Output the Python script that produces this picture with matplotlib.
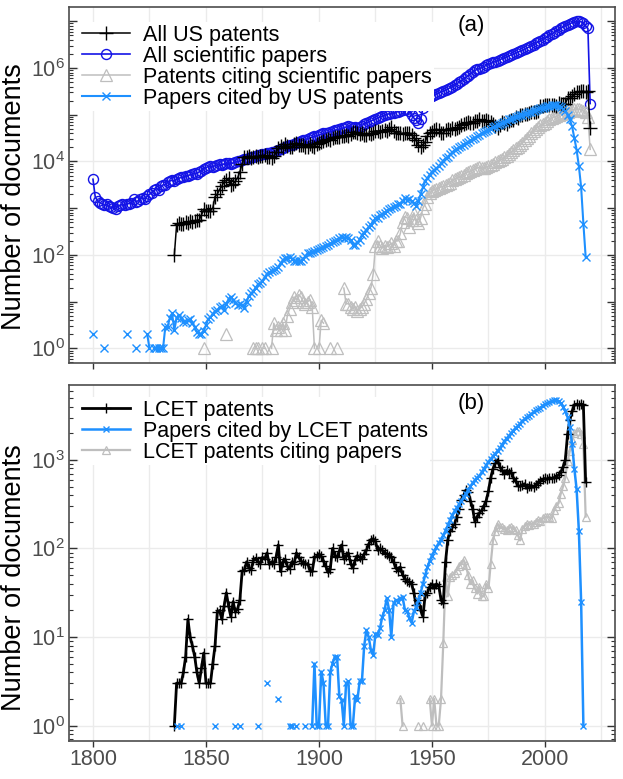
import numpy as np
import matplotlib
matplotlib.use('Agg')
import matplotlib.pyplot as plt
from matplotlib.ticker import LogLocator, NullFormatter

plt.rcParams['font.family'] = ['Liberation Sans', 'DejaVu Sans']
plt.rcParams['mathtext.fontset'] = 'custom'
plt.rcParams['mathtext.rm'] = 'Liberation Sans'
plt.rcParams['mathtext.it'] = 'Liberation Sans:italic'
plt.rcParams['mathtext.bf'] = 'Liberation Sans:bold'

NA = None

# all values are log10(number of documents) per year
# panel (a)
papers_start = 1800
papers_log = [
    3.62, 3.24, 3.16, 3.12, 3.10, 3.06, 3.08, 3.04, 3.02, 3.00,
    2.99, 3.04, 3.06, 3.08, 3.06, 3.10, 3.10, 3.12, 3.20, 3.14,
    3.16, 3.20, 3.22, 3.20, 3.26, 3.30, 3.33, 3.38, 3.42, 3.40,
    3.47, 3.50, 3.50, 3.56, 3.58, 3.60, 3.58, 3.62, 3.64, 3.66,
    3.67, 3.70, 3.69, 3.72, 3.73, 3.75, 3.74, 3.78, 3.80, 3.84,
    3.87, 3.89, 3.90, 3.89, 3.91, 3.93, 3.94, 3.92, 3.95, 3.96,
    3.97, 3.95, 3.97, 3.99, 4.00, 4.01, 4.03, 4.05, 4.06, 4.07,
    4.09, 4.10, 4.12, 4.13, 4.14, 4.16, 4.17, 4.18, 4.19, 4.20,
    4.21, 4.23, 4.25, 4.27, 4.29, 4.31, 4.33, 4.35, 4.36, 4.38,
    4.40, 4.42, 4.44, 4.45, 4.47, 4.49, 4.51, 4.52, 4.54, 4.55,
    4.57, 4.58, 4.60, 4.61, 4.62, 4.64, 4.65, 4.67, 4.68, 4.69,
    4.71, 4.72, 4.74, 4.75, 4.74, 4.72, 4.74, 4.72, 4.73, 4.77,
    4.80, 4.82, 4.85, 4.87, 4.89, 4.91, 4.93, 4.95, 4.97, 4.99,
    5.01, 5.02, 5.03, 5.04, 5.05, 5.07, 5.09, 5.10, 5.12, 5.12,
    5.08, 5.00, 4.93, 4.88, 4.83, 4.90, 5.15, 5.25, 5.32, 5.37,
    5.41, 5.43, 5.45, 5.47, 5.49, 5.51, 5.53, 5.55, 5.58, 5.60,
    5.63, 5.66, 5.70, 5.73, 5.76, 5.80, 5.84, 5.88, 5.92, 5.95,
    5.97, 5.99, 6.01, 6.03, 6.06, 6.08, 6.10, 6.12, 6.14, 6.16,
    6.18, 6.20, 6.22, 6.24, 6.26, 6.28, 6.30, 6.32, 6.34, 6.36,
    6.38, 6.40, 6.43, 6.45, 6.48, 6.50, 6.53, 6.56, 6.58, 6.61,
    6.64, 6.67, 6.70, 6.73, 6.76, 6.79, 6.82, 6.85, 6.88, 6.91,
    6.93, 6.95, 6.97, 6.99, 7.00, 7.00, 6.99, 6.96, 6.90, 6.85,
    5.24,
]

patents_start = 1836
patents_log = [
    2.00, 2.64, 2.68, 2.66,
    2.67, 2.70, 2.68, 2.72, 2.70, 2.72, 2.74, 2.75, 2.85, 2.98,
    2.95, 2.93, 2.95, 3.00, 3.25, 3.30, 3.40, 3.47, 3.57, 3.60,
    3.64, 3.50, 3.52, 3.58, 3.65, 3.78, 3.95, 4.09, 4.10, 4.11,
    4.08, 4.10, 4.11, 4.10, 4.11, 4.12, 4.14, 4.10, 4.10, 4.08,
    4.11, 4.20, 4.28, 4.33, 4.29, 4.37, 4.33, 4.32, 4.30, 4.37,
    4.40, 4.36, 4.36, 4.35, 4.30, 4.32, 4.38, 4.34, 4.32, 4.38,
    4.39, 4.42, 4.43, 4.45, 4.48, 4.47, 4.50, 4.52, 4.53, 4.52,
    4.55, 4.54, 4.56, 4.55, 4.58, 4.63, 4.64, 4.60, 4.58, 4.60,
    4.57, 4.56, 4.60, 4.58, 4.62, 4.66, 4.65, 4.64, 4.66, 4.68,
    4.66, 4.70, 4.73, 4.65, 4.62, 4.61, 4.60, 4.59, 4.60, 4.62,
    4.60, 4.57, 4.50, 4.45, 4.35, 4.32, 4.36, 4.42, 4.55, 4.60,
    4.64, 4.68, 4.69, 4.68, 4.62, 4.60, 4.68, 4.70, 4.68, 4.72,
    4.70, 4.72, 4.74, 4.78, 4.80, 4.82, 4.84, 4.82, 4.83, 4.86,
    4.86, 4.90, 4.86, 4.87, 4.88, 4.86, 4.85, 4.81, 4.77, 4.72,
    4.79, 4.84, 4.82, 4.80, 4.87, 4.88, 4.89, 4.95, 4.93, 5.00,
    5.00, 5.01, 5.02, 5.03, 5.05, 5.05, 5.07, 5.08, 5.18, 5.19,
    5.20, 5.21, 5.20, 5.21, 5.20, 5.18, 5.25, 5.22, 5.22, 5.24,
    5.35, 5.35, 5.40, 5.44, 5.48, 5.49, 5.50, 5.50, 5.48, 5.50,
    4.72,
]

citing_start = 1849
citing_log = [
    0.0,
    NA, NA, NA, NA, NA, NA, NA, NA, NA, 0.30,
    NA, NA, NA, NA, NA, NA, NA, NA, NA, NA,
    NA, 0.0, 0.0, 0.0, NA, 0.0, 0.0, NA, NA, 0.0,
    0.54, 0.39, 0.45, 0.39, 0.54, 0.39, 0.70, 0.85, 1.00, 1.10,
    1.04, 1.15, 1.10, 1.00, 0.96, 1.00, 1.04, 0.89, 0.0, NA,
    0.0, 0.60, 0.54, NA, NA, 0.0, NA, NA, 0.0, NA,
    NA, 1.29, 0.95, 0.96, 0.89, 0.85, 0.89, 0.79, 0.85, 0.89,
    0.96, 1.05, 1.18, 1.30, 1.60, 2.20, 2.30, 2.20, 2.15, 2.20,
    2.18, 2.20, 2.25, 2.20, 2.30, 2.30, 2.46, 2.70, 2.82, 2.80,
    2.60, 2.75, 2.90, 2.75, 2.68, 2.80, 3.00, 3.10, 3.25, 3.32,
    3.37, 3.40, 3.42, 3.44, 3.46, 3.47, 3.50, 3.52, 3.55, 3.60,
    3.62, 3.64, 3.66, 3.70, 3.72, 3.76, 3.78, 3.80, 3.82, 3.84,
    3.86, 3.88, 3.87, 3.86, 3.88, 3.90, 3.92, 3.95, 3.98, 4.00,
    4.03, 4.05, 4.10, 4.12, 4.15, 4.20, 4.24, 4.28, 4.32, 4.36,
    4.40, 4.45, 4.50, 4.55, 4.60, 4.65, 4.70, 4.74, 4.78, 4.80,
    4.82, 4.86, 4.90, 4.93, 4.95, 4.97, 5.00, 5.02, 5.03, 5.05,
    5.06, 5.08, 5.10, 5.12, 5.13, 5.12, 5.10, 5.08, 5.05, 4.95,
    4.26,
]

cited_start = 1800
cited_log = [
    0.30, NA, NA, NA, NA, 0.0, NA, NA, NA, NA,
    NA, NA, NA, NA, NA, 0.30, NA, NA, NA, 0.0,
    NA, NA, NA, NA, 0.30, 0.0, NA, 0.0, 0.0, 0.0,
    0.0, 0.0, 0.46, 0.46, 0.65, 0.75, 0.39, 0.65, 0.72, 0.66,
    0.57, 0.56, 0.61, 0.63, 0.55, 0.45, 0.34, 0.30, 0.30, 0.37,
    0.50, 0.63, 0.67, 0.74, 0.80, 0.82, 0.88, 0.90, 0.83, 0.95,
    1.06, 1.11, 1.04, 0.98, 0.93, 0.95, 0.92, 0.87, 1.00, 1.12,
    1.18, 1.23, 1.30, 1.37, 1.39, 1.45, 1.52, 1.60, 1.63, 1.65,
    1.68, 1.70, 1.75, 1.82, 1.89, 1.93, 1.93, 1.95, 1.92, 1.86,
    1.88, 1.88, 1.86, 1.91, 1.98, 2.04, 2.04, 2.06, 2.08, 2.10,
    2.13, 2.15, 2.17, 2.20, 2.22, 2.25, 2.27, 2.30, 2.32, 2.37,
    2.38, 2.36, 2.38, 2.37, 2.32, 2.22, 2.22, 2.27, 2.33, 2.43,
    2.48, 2.54, 2.60, 2.65, 2.72, 2.78, 2.80, 2.85, 2.88, 2.90,
    2.95, 2.98, 3.00, 3.02, 3.05, 3.08, 3.10, 3.15, 3.22, 3.18,
    3.20, 3.15, 3.12, 3.05, 3.15, 3.30, 3.45, 3.58, 3.65, 3.72,
    3.78, 3.82, 3.86, 3.90, 3.96, 4.02, 4.07, 4.10, 4.15, 4.20,
    4.24, 4.27, 4.30, 4.33, 4.36, 4.39, 4.42, 4.45, 4.48, 4.51,
    4.54, 4.57, 4.60, 4.63, 4.65, 4.68, 4.70, 4.73, 4.76, 4.78,
    4.80, 4.82, 4.85, 4.87, 4.90, 4.92, 4.94, 4.96, 4.97, 4.99,
    5.00, 5.01, 5.03, 5.05, 5.07, 5.09, 5.10, 5.12, 5.14, 5.15,
    5.17, 5.18, 5.19, 5.20, 5.20, 5.20, 5.19, 5.17, 5.13, 5.08,
    5.00, 4.90, 4.75, 4.50, 4.25, 3.90, 3.45, 2.67, 1.96,
]

# panel (b)
lcet_start = 1836
lcet_log = [
    0.0, 0.48, 0.48, 0.48,
    0.60, 0.78, 1.20, 1.00, 0.90, 0.78, 0.60, 0.48, 0.65, 0.82,
    0.48, 0.48, 0.48, 0.70, 0.90, 1.28, 1.30, 1.20, 1.35, 1.50,
    1.35, 1.23, 1.40, 1.28, 1.32, 1.42, 1.74, 1.76, 1.85, 1.78,
    1.76, 1.87, 1.89, 1.85, 1.83, 1.90, 1.88, 1.95, 1.82, 1.85,
    1.83, 1.90, 2.04, 1.74, 1.85, 1.88, 1.80, 1.77, 1.85, 1.83,
    1.95, 1.90, 1.86, 1.84, 1.82, 1.83, 1.75, 1.74, 1.90, 1.91,
    1.94, 1.91, 1.86, 1.80, 1.73, 1.77, 2.00, 1.92, 1.90, 1.97,
    2.04, 1.88, 1.92, 1.95, 1.83, 1.78, 1.87, 1.92, 1.90, 1.88,
    1.94, 1.98, 2.05, 2.10, 2.11, 2.08, 1.98, 2.00, 1.98, 1.95,
    1.94, 1.92, 1.90, 1.85, 1.78, 1.75, 1.79, 1.70, 1.66, 1.63,
    1.62, 1.60, 1.50, 1.36, 1.42, 1.30, 1.23, 1.48, 1.50, 1.57,
    1.60, 1.55, 1.60, 1.58, 1.42, 1.38, 1.85, 2.10, 2.20, 2.24,
    2.28, 2.36, 2.45, 2.55, 2.60, 2.66, 2.64, 2.54, 2.45, 2.30,
    2.36, 2.40, 2.43, 2.48, 2.54, 2.65, 2.80, 2.90, 2.96, 3.00,
    2.92, 2.88, 2.84, 2.88, 2.85, 2.86, 2.80, 2.76, 2.71, 2.70,
    2.72, 2.73, 2.68, 2.70, 2.71, 2.69, 2.72, 2.74, 2.76, 2.78,
    2.79, 2.78, 2.80, 2.79, 2.80, 2.81, 2.83, 2.86, 2.92, 3.00,
    3.29, 3.45, 3.55, 3.62, 3.63, 3.62, 3.63, 3.62, 2.75,
]

lcet_cited_start = 1837
lcet_cited_log = [
    0.0, NA, 0.0,
    NA, NA, NA, NA, NA, NA, NA, NA, NA, NA,
    NA, NA, NA, NA, 0.0, NA, NA, NA, NA, NA,
    NA, NA, NA, 0.0, NA, 0.0, NA, NA, NA, NA,
    NA, NA, NA, 0.0, NA, NA, NA, 0.48, NA, NA,
    NA, NA, 0.30, NA, NA, NA, NA, 0.0, 0.0, NA,
    0.0, NA, NA, NA, 0.0, NA, NA, 0.0, 0.70, 0.0,
    0.0, 0.61, 0.48, 0.0, 0.0, 0.61, 0.70, 0.78, 0.78, 0.33,
    0.29, 0.0, 0.48, 0.50, 0.0, 0.0, 0.33, 0.29, 0.50, 0.50,
    0.90, 1.08, 1.00, 0.85, 0.80, 1.04, 1.02, 1.10, 1.23, 1.30,
    1.44, 1.31, 1.00, 1.38, 1.42, 1.40, 1.44, 1.45, 1.31, 1.29,
    1.22, 1.16, 1.29, 1.34, 1.42, 1.50, 1.60, 1.70, 1.79, 1.86,
    1.92, 1.97, 2.02, 2.06, 2.10, 2.15, 2.20, 2.26, 2.32, 2.38,
    2.42, 2.46, 2.50, 2.54, 2.58, 2.62, 2.66, 2.70, 2.74, 2.77,
    2.80, 2.82, 2.86, 2.90, 2.94, 2.98, 3.01, 3.04, 3.07, 3.10,
    3.13, 3.17, 3.21, 3.24, 3.27, 3.30, 3.33, 3.36, 3.38, 3.41,
    3.44, 3.46, 3.48, 3.50, 3.52, 3.54, 3.56, 3.57, 3.59, 3.61,
    3.63, 3.64, 3.65, 3.66, 3.67, 3.67, 3.66, 3.64, 3.60, 3.55,
    3.48, 3.37, 3.18, 2.90, 2.67, 2.20, 1.40, 0.0,
]

lcet_citing_start = 1936
lcet_citing_log = [
    0.30, 0.0, NA, NA,
    NA, NA, NA, NA, 0.0, NA, 0.0, NA, NA, 0.30,
    0.0, 0.30, 0.0, 0.0, 0.30, 0.93, 1.68, 1.46, 1.68, 1.70,
    1.72, 1.76, 1.80, 1.83, 1.87, 1.81, 1.70, 1.60, 1.64, 1.55,
    1.49, 1.57, 1.46, 1.46, 1.60, 1.55, 1.83, 2.09, 2.20, 2.28,
    2.24, 2.24, 2.22, 2.21, 2.23, 2.24, 2.22, 2.21, 2.15, 2.09,
    2.22, 2.25, 2.28, 2.27, 2.28, 2.28, 2.30, 2.32, 2.31, 2.34,
    2.35, 2.36, 2.35, 2.34, 2.43, 2.48, 2.51, 2.62, 2.70, 2.80,
    2.99, 3.10, 3.22, 3.30, 3.33, 3.33, 3.29, 3.18, 2.36,
]


def series(start, logs):
    yrs = np.arange(start, start + len(logs))
    v = np.array([np.nan if x is None else x for x in logs], dtype=float)
    return yrs, 10.0 ** v


BLACK = '#000000'
BLUE = '#1414e6'
GREY = '#bebebe'
LBLUE = '#1e90ff'
GRID = '#ebebeb'
SPINE = '#4d4d4d'
FS = 15.5

fig = plt.figure(figsize=(6.23, 7.79), dpi=100)
ax1 = fig.add_axes([0.1108, 0.5336, 0.8764, 0.457])
ax2 = fig.add_axes([0.1108, 0.0488, 0.8764, 0.457])


def style(ax, ylo, yhi, decades, labelled):
    ax.set_yscale('log')
    ax.set_xlim(1789.4, 2031)
    ax.set_ylim(10.0 ** ylo, 10.0 ** yhi)
    for x in range(1800, 2030, 25):
        ax.axvline(x, color=GRID, lw=1.0, zorder=0)
    for e in labelled:
        ax.axhline(10.0 ** e, color=GRID, lw=1.0, zorder=0)
    ax.set_xticks([1800, 1850, 1900, 1950, 2000])
    ax.set_yticks([10.0 ** e for e in decades])
    ax.set_yticklabels(['$10^{%d}$' % e if e in labelled else '' for e in decades])
    ax.yaxis.set_minor_locator(LogLocator(base=10, subs=np.arange(2, 10), numticks=20))
    ax.yaxis.set_minor_formatter(NullFormatter())
    ax.tick_params(axis='y', which='major', direction='in', length=6, width=1,
                   left=True, right=True, labelsize=FS, labelcolor=SPINE,
                   color='#333333', pad=3)
    ax.tick_params(axis='y', which='minor', direction='in', length=3, width=0.8,
                   left=True, right=True, color='#333333')
    ax.tick_params(axis='x', which='major', direction='out', length=4, width=1,
                   labelsize=FS, labelcolor=SPINE, color='#333333', pad=2)
    for s in ax.spines.values():
        s.set_color(SPINE)
        s.set_linewidth(1.2)
    ax.set_ylabel('Number of documents', fontsize=19.5)


style(ax1, -0.32, 7.3, range(0, 8), [0, 2, 4, 6])
style(ax2, -0.173, 3.845, range(0, 4), [0, 1, 2, 3])
ax1.tick_params(axis='x', labelbottom=False)
ax1.yaxis.set_label_coords(-0.077, 0.468)
ax2.yaxis.set_label_coords(-0.077, 0.458)

legend_kw = dict(loc='upper left', fontsize=FS, frameon=True, framealpha=1,
                 facecolor='white', edgecolor='none', fancybox=False,
                 labelspacing=0.0, handlelength=2.25, handletextpad=0.6,
                 borderpad=0.12, borderaxespad=0.46)

# panel (a)
x, y = series(papers_start, papers_log)
ax1.plot(x, y, color=BLUE, marker='o', ms=7.2, mfc='none', mew=1.0, lw=1.2,
         label='All scientific papers', zorder=2)
x, y = series(patents_start, patents_log)
ax1.plot(x, y, color=BLACK, marker='+', ms=10, mew=1.0, lw=1.1,
         label='All US patents', zorder=3)
x, y = series(citing_start, citing_log)
ax1.plot(x, y, color=GREY, marker='^', ms=8, mfc='none', mew=0.9, lw=1.1,
         label='Patents citing scientific papers', zorder=2)
x, y = series(cited_start, cited_log)
ax1.plot(x, y, color=LBLUE, marker='x', ms=6, mew=1.0, lw=1.5,
         label='Papers cited by US patents', zorder=3)

h, l = ax1.get_legend_handles_labels()
order = [1, 0, 2, 3]
ax1.legend([h[i] for i in order], [l[i] for i in order],
           bbox_to_anchor=(0.0, 0.986), **legend_kw)
ax1.text(0.736, 0.95, '(a)', transform=ax1.transAxes, ha='center',
         va='center', fontsize=16)

# panel (b)
x, y = series(lcet_citing_start, lcet_citing_log)
ax2.plot(x, y, color=GREY, marker='^', ms=6, mfc='none', mew=0.9, lw=1.6,
         label='LCET patents citing papers', zorder=2)
x, y = series(lcet_start, lcet_log)
ax2.plot(x, y, color=BLACK, marker='+', ms=7.5, mew=1.0, lw=2.0,
         label='LCET patents', zorder=3)
x, y = series(lcet_cited_start, lcet_cited_log)
ax2.plot(x, y, color=LBLUE, marker='x', ms=4.5, mew=1.0, lw=1.8,
         label='Papers cited by LCET patents', zorder=4)

h, l = ax2.get_legend_handles_labels()
order = [1, 2, 0]
ax2.legend([h[i] for i in order], [l[i] for i in order],
           bbox_to_anchor=(0.0, 0.994), **legend_kw)
ax2.text(0.736, 0.947, '(b)', transform=ax2.transAxes, ha='center',
         va='center', fontsize=16)

fig.savefig('out.png', dpi=100)
